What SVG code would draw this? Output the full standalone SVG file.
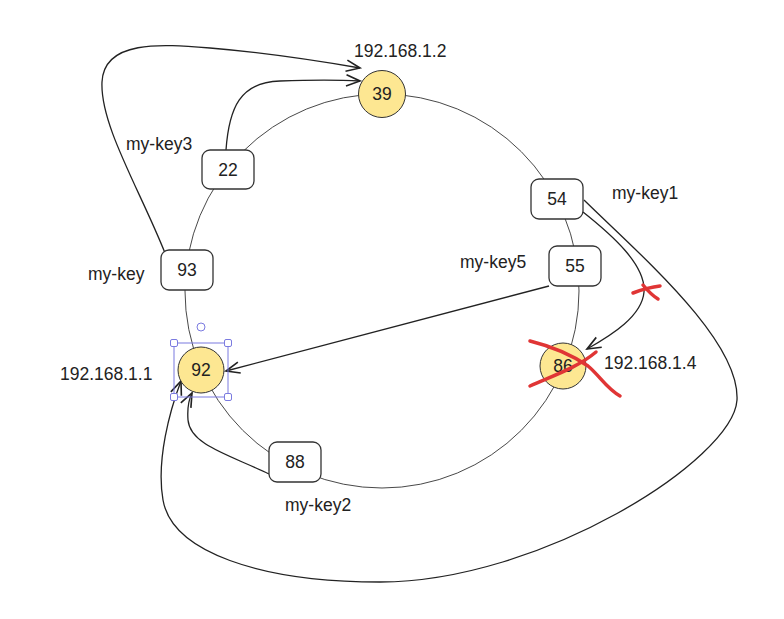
<svg xmlns="http://www.w3.org/2000/svg" width="784" height="619" viewBox="0 0 784 619">
<defs>
<style>
text{font-family:"Liberation Sans",Arial,sans-serif;font-size:17.5px;fill:#222}
.c{text-anchor:middle}
.box{fill:#fff;stroke:#333;stroke-width:1.3}
.node{fill:#fde792;stroke:#333;stroke-width:1}
.ring{fill:none;stroke:#333;stroke-width:0.9}
.con{fill:none;stroke:#222;stroke-width:1.3}
.red{fill:none;stroke:#e03535;stroke-width:3.5;stroke-linecap:round;stroke-linejoin:round}
.sel{fill:none;stroke:#7b7be0;stroke-width:1}
.hdl{fill:#fff;stroke:#7b7be0;stroke-width:1}
</style>
<marker id="arr" markerUnits="userSpaceOnUse" markerWidth="20" markerHeight="20" refX="0" refY="0" viewBox="-12 -8 14 16" orient="auto" overflow="visible">
<path d="M-11,-4.5 L0,0 L-11,4.5" fill="none" stroke="#222" stroke-width="1.3"/>
</marker>
</defs>
<rect width="784" height="619" fill="#fff"/>
<circle class="ring" cx="382" cy="291" r="197"/>
<g id="connectors">
<path class="con" d="M165,253 C 140,190 100,125 102,82 C 104,40 160,44 210,48 C 270,53 325,62 360,68" marker-end="url(#arr)"/>
<path class="con" d="M226,150 C 229,108 240,82 280,81 C 310,80 340,80 360,81" marker-end="url(#arr)"/>
<path class="con" d="M549,286 L226,371" marker-end="url(#arr)"/>
<path class="con" d="M583,212 C 612,235 646,265 644,292 C 642,316 612,335 587,349" marker-end="url(#arr)"/>
<path class="con" d="M584,200 C 640,255 740,340 737,400 C 733,460 540,582 380,582 C 260,582 172,552 163,500 C 156,460 170,410 181,381" marker-end="url(#arr)"/>
<path class="con" d="M269,474 C 230,455 190,445 188,420 C 187,406 189,399 192,393" marker-end="url(#arr)"/>
</g>
<g id="n39"><circle class="node" cx="382" cy="94" r="23.5"/><text class="c" x="382" y="100">39</text></g>
<g id="n22"><rect class="box" x="202" y="150" width="52" height="39" rx="8"/><text class="c" x="228" y="176">22</text></g>
<g id="n93"><rect class="box" x="161" y="250" width="52" height="40" rx="8"/><text class="c" x="187" y="276">93</text></g>
<g id="n54"><rect class="box" x="531" y="179" width="52" height="40" rx="8"/><text class="c" x="557" y="205">54</text></g>
<g id="n55"><rect class="box" x="549" y="246" width="52" height="40" rx="8"/><text class="c" x="575" y="272">55</text></g>
<g id="n88"><rect class="box" x="269" y="442" width="52" height="40" rx="8"/><text class="c" x="295" y="468">88</text></g>
<g id="n92"><circle class="node" cx="201" cy="370" r="23"/><text class="c" x="201" y="376">92</text>
<rect class="sel" x="174" y="343" width="54" height="54"/>
<rect class="hdl" x="170.5" y="339.5" width="7" height="7" rx="1.5"/>
<rect class="hdl" x="224.5" y="339.5" width="7" height="7" rx="1.5"/>
<rect class="hdl" x="170.5" y="393.5" width="7" height="7" rx="1.5"/>
<rect class="hdl" x="224.5" y="393.5" width="7" height="7" rx="1.5"/>
<circle class="hdl" cx="201" cy="327" r="4"/>
</g>
<g id="n86"><circle class="node" cx="563" cy="366" r="23"/><text class="c" x="563" y="372">86</text></g>
<g id="crosses">
<path class="red" d="M530,341 C 550,346 572,355 588,366 C 600,376 606,388 620,396"/>
<path class="red" d="M530,386 C 552,376 577,368 596,352"/>
<path class="red" d="M633,293 C 641,290 651,287 660,286"/>
<path class="red" d="M643,285 C 648,291 653,296 658,299"/>
</g>
<g id="labels">
<text x="354" y="57">192.168.1.2</text>
<text x="126" y="150">my-key3</text>
<text x="612" y="199">my-key1</text>
<text x="460" y="268">my-key5</text>
<text x="88" y="280">my-key</text>
<text x="60" y="380">192.168.1.1</text>
<text x="604" y="369">192.168.1.4</text>
<text x="285" y="511">my-key2</text>
</g>
</svg>
